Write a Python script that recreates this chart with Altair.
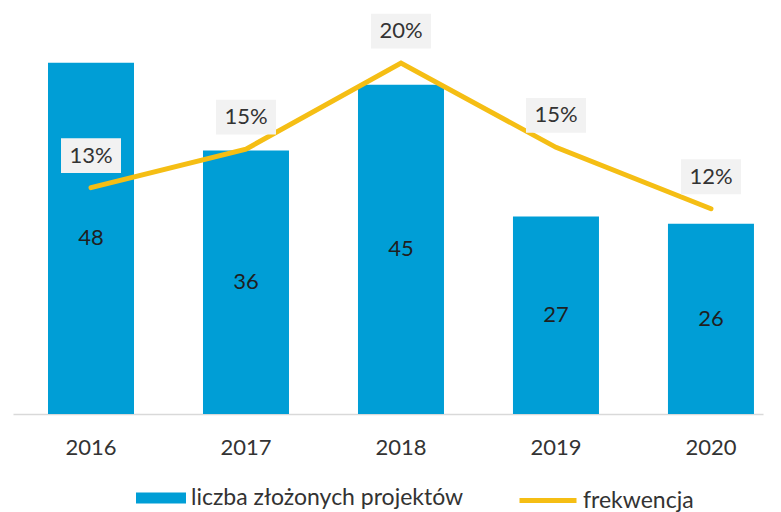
import altair as alt
import pandas as pd

years = ["2016", "2017", "2018", "2019", "2020"]
projects = [48, 36, 45, 27, 26]
turnout = [12.9, 15.1, 20.0, 15.2, 11.7]
bar_name = "liczba złożonych projektów"
line_name = "frekwencja"

BLUE = "#009ED6"
YELLOW = "#F5BE14"
FONT = "Lato"

df = pd.DataFrame({
    "year": years,
    "projects": projects,
    "turnout": turnout,
    "bar_s": [bar_name] * len(years),
    "line_s": [line_name] * len(years),
})

x = alt.X(
    "year:N", sort=years, title=None,
    scale=alt.Scale(paddingInner=0.445, paddingOuter=0.142, align=0.795),
    axis=alt.Axis(labelAngle=0, ticks=False, tickSize=0, domainColor="#D9D9D9",
                  domainWidth=1.5, labelFont=FONT, labelFontSize=22,
                  labelColor="#333333", labelPadding=23, grid=False),
)

yscale_bar = alt.Scale(domain=[0, 54.65], nice=False, zero=True)
yscale_pct = alt.Scale(domain=[0, 22.8], nice=False, zero=True)

base = alt.Chart(df)

bars = base.mark_bar(size=86).encode(
    x=x,
    y=alt.Y("projects:Q", scale=yscale_bar, axis=None),
    fill=alt.Fill("bar_s:N", scale=alt.Scale(domain=[bar_name], range=[BLUE]),
                  legend=alt.Legend(orient="none", legendX=123, legendY=459, title=None,
                                    symbolType="M-1,-0.22H1V0.22H-1Z", symbolSize=2500,
                                    symbolStrokeWidth=0, labelFont=FONT, labelFontSize=23,
                                    labelColor="#333333", labelOffset=5, padding=0,
                                    labelLimit=500)),
)

bar_text = base.transform_calculate(mid="datum.projects / 2").mark_text(
    font=FONT, fontSize=22, color="#1F1F1F"
).encode(
    x=x,
    y=alt.Y("mid:Q", scale=yscale_bar, axis=None),
    text=alt.Text("projects:Q"),
)

line = base.mark_line(strokeWidth=5, strokeCap="round", strokeJoin="miter").encode(
    x=x,
    y=alt.Y("turnout:Q", scale=yscale_pct, axis=None),
    stroke=alt.Stroke("line_s:N", scale=alt.Scale(domain=[line_name], range=[YELLOW]),
                      legend=alt.Legend(orient="none", legendX=504, legendY=455.5, title=None,
                                        symbolType="stroke", symbolSize=3249,
                                        symbolStrokeWidth=5, labelFont=FONT, labelFontSize=23,
                                        labelColor="#333333", labelOffset=4, padding=0,
                                        labelLimit=500)),
)

boxes = base.mark_point(
    shape="M-1,-0.58H1V0.58H-1Z", size=3600, filled=True, fill="#F2F2F2",
    opacity=1, strokeWidth=0, yOffset=-32,
).encode(
    x=x,
    y=alt.Y("turnout:Q", scale=yscale_pct, axis=None),
)

pct_text = base.transform_calculate(
    lbl="format(datum.turnout, '.0f') + '%'"
).mark_text(font=FONT, fontSize=22, color="#333333", yOffset=-32).encode(
    x=x,
    y=alt.Y("turnout:Q", scale=yscale_pct, axis=None),
    text="lbl:N",
)

chart = alt.layer(bars, bar_text, line, boxes, pct_text).resolve_scale(
    y="independent"
).properties(
    width=750, height=400,
    padding={"left": 5, "top": 5, "right": 5, "bottom": 0},
).configure_view(stroke=None)

chart.save("out.html", embed_options={"renderer": "svg", "actions": False})
